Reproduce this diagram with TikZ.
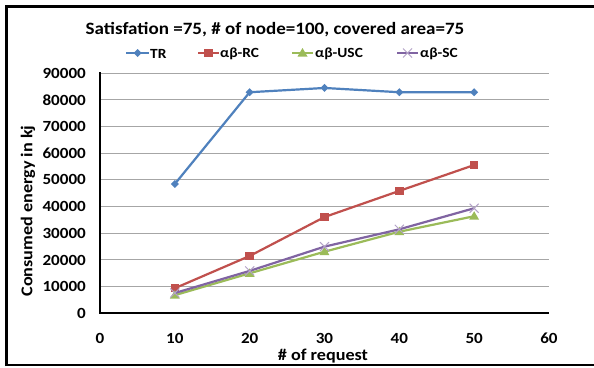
\documentclass[tikz,border=0pt]{standalone}
\usepackage{fontspec}
\setmainfont{Carlito}[FakeStretch=1.1]
\definecolor{cTR}{HTML}{4F81BD}
\definecolor{cRC}{HTML}{C0504D}
\definecolor{cUSC}{HTML}{9BBB59}
\definecolor{cSC}{HTML}{8064A2}
\definecolor{cSCm}{HTML}{B3A2C7}
\definecolor{grid}{HTML}{A6A6A6}
\tikzset{
  series/.style={line width=2.2pt, line join=round},
  gridline/.style={draw=grid, line width=1pt},
  axisline/.style={draw=black, line width=1.8pt},
  ticklbl/.style={font=\bfseries\fontsize{15.5}{15.5}\selectfont, inner sep=0pt},
  legendlbl/.style={font=\bfseries\fontsize{14}{14}\selectfont, inner sep=0pt, anchor=west},
  axtitle/.style={font=\bfseries\fontsize{16.5}{16.5}\selectfont, inner sep=0pt},
  mkTR/.pic={\fill[cTR] (-4pt,0pt) -- (0pt,4pt) -- (4pt,0pt) -- (0pt,-4pt) -- cycle;},
  mkRC/.pic={\fill[cRC] (-4.2pt,-4.2pt) rectangle (4.2pt,4.2pt);},
  mkUSC/.pic={\fill[cUSC] (-5pt,-3.5pt) -- (0pt,5pt) -- (5pt,-3.5pt) -- cycle;},
  mkSC/.pic={\draw[cSCm, line width=1pt] (-4.5pt,-4.5pt) -- (4.5pt,4.5pt) (-4.5pt,4.5pt) -- (4.5pt,-4.5pt);},
}
\begin{document}
\begin{tikzpicture}[x=1pt,y=-1pt]
\useasboundingbox (0,0) rectangle (594,367);
\fill[white] (0,0) rectangle (594,367);
% frame
\draw[line width=2.4pt] (6.5,366.2) -- (6.5,6.5) -- (610,6.5);
\draw[line width=2.4pt] (5.3,365) -- (610,365);
% title
\node[font=\bfseries\fontsize{17.3}{17.3}\selectfont, inner sep=0pt] (title) at (275,30) {Satisfation =75, \# of node=100, covered area=75};
% legend
\draw[cTR, line width=2.2pt] (126,53) -- (149,53); \pic at (137.5,53) {mkTR};
\node[legendlbl] (lTR) at (150,53.5) {TR};
\draw[cRC, line width=2.2pt] (198,53) -- (219,53); \pic at (208.5,53) {mkRC};
\node[legendlbl] (lRC) at (220,53.5) {αβ-RC};
\draw[cUSC, line width=2.2pt] (292,53) -- (313,53); \pic at (302.5,53) {mkUSC};
\node[legendlbl] (lUSC) at (315,53.5) {αβ-USC};
\draw[cSC, line width=2.2pt] (397,53) -- (418,53); \pic at (407.5,53) {mkSC};
\node[legendlbl] (lSC) at (420,53.5) {αβ-SC};
% grid
\foreach \i in {1,2,3,4,5,6,7,8,9} {
  \draw[gridline] (100,{313.3-26.667*\i}) -- (549,{313.3-26.667*\i});
}
\foreach \v [count=\i from 0] in {0,10000,20000,30000,40000,50000,60000,70000,80000,90000} {
  \node[ticklbl, anchor=east] (yt\i) at (86,{313.3-26.667*\i}) {\v};
}
\foreach \v [count=\i from 0] in {0,10,20,30,40,50,60} {
  \node[ticklbl] (xt\i) at ({100+74.83*\i},338.5) {\v};
}
% axes
\draw[axisline] (100,72) -- (100,313.3) -- (549,313.3);
% axis titles
\node[axtitle] (xtitle) at (323,356) {\# of request};
\node[axtitle, rotate=90] (ytitle) at (28,211) {Consumed energy in kj};
% data
\begin{scope}[shift={(100pt,-313.3pt)}, x=7.483pt, y=2.6667pt]
\draw[series, cTR] (10,48.5) -- (20,82.9) -- (30,84.5) -- (40,82.9) -- (50,82.9);
\foreach \a/\b in {10/48.5,20/82.9,30/84.5,40/82.9,50/82.9} \pic at (\a,\b) {mkTR};
\draw[series, cRC] (10,9.4) -- (20,21.5) -- (30,36.1) -- (40,45.9) -- (50,55.6);
\foreach \a/\b in {10/9.4,20/21.5,30/36.1,40/45.9,50/55.6} \pic at (\a,\b) {mkRC};
\draw[series, cUSC] (10,6.8) -- (20,15.0) -- (30,23.1) -- (40,30.6) -- (50,36.4);
\foreach \a/\b in {10/6.8,20/15.0,30/23.1,40/30.6,50/36.4} \pic at (\a,\b) {mkUSC};
\draw[series, cSC] (10,7.6) -- (20,15.9) -- (30,25.0) -- (40,31.5) -- (50,39.4);
\foreach \a/\b in {10/7.6,20/15.9,30/25.0,40/31.5,50/39.4} \pic at (\a,\b) {mkSC};
\end{scope}
\end{tikzpicture}
\end{document}
